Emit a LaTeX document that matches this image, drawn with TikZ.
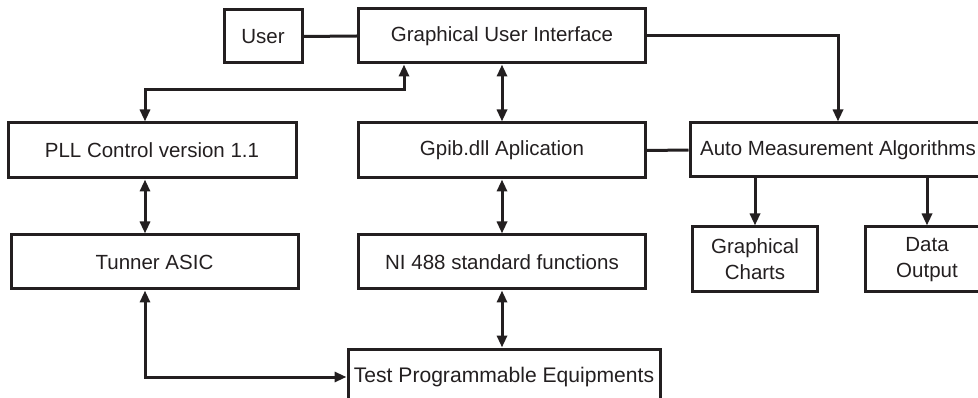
\documentclass[tikz,border=0pt]{standalone}
\usepackage{fontspec}
\setmainfont{Liberation Sans}
\usetikzlibrary{arrows.meta}
\definecolor{ink}{RGB}{35,31,32}
\begin{document}
\begin{tikzpicture}[x=1pt,y=1pt,
  blk/.style={draw=ink,line width=3pt,rectangle,inner sep=0pt,
    text=ink,font=\fontsize{20.5}{26}\selectfont,align=center},
  link/.style={draw=ink,line width=3pt},
  tip/.style={link,-{Triangle[length=12pt,width=10pt]}},
  twotip/.style={link,{Triangle[length=12pt,width=10pt]}-{Triangle[length=12pt,width=10pt]}}]
\useasboundingbox (0,0) rectangle (978,-398);

% blocks
\node[blk,minimum width=78,minimum height=53] (user) at (263,-36.5) {User};
\node[blk,minimum width=287,minimum height=54] (gui) at (502,-36) {Graphical User Interface};
\node[blk,minimum width=288,minimum height=55] (pll) at (152,-150.5) {PLL Control version 1.1};
\node[blk,minimum width=287,minimum height=55] (gpib) at (502,-150.5) {Gpib.dll Aplication};
\node[blk,minimum width=296,minimum height=54] (ama) at (838,-150) {Auto Measurement Algorithms};
\node[blk,minimum width=287,minimum height=54] (tun) at (154.5,-262) {Tunner ASIC};
\node[blk,minimum width=287,minimum height=54] (ni) at (502,-262) {NI 488 standard functions};
\node[blk,minimum width=125,minimum height=65] (gc) at (755,-259.5) {Graphical\\Charts};
\node[blk,minimum width=124,minimum height=65] (dout) at (927,-259.5) {Data\\Output};
\node[blk,minimum width=312,minimum height=56,font=\fontsize{21.1}{26}\selectfont] (test) at (504,-377) {Test Programmable Equipments};

% vertical guide for the left column of connectors
\coordinate (lx) at (145,0);
\coordinate (bend) at (404,-90);

% connectors
\draw[link] (user.east) -- (gui.west);
\draw[twotip] (gui.south -| bend) -- (bend) -| (pll.north -| lx);
\draw[twotip] (gui.south) -- (gpib.north);
\draw[tip] (gui.east) -| (ama.north);
\draw[link] (gpib.east) -- (ama.west);
\draw[tip] (ama.south -| gc.north) -- (gc.north);
\draw[tip] (ama.south -| dout.north) -- (dout.north);
\draw[twotip] (pll.south -| lx) -- (tun.north -| lx);
\draw[twotip] (gpib.south) -- (ni.north);
\draw[twotip] (ni.south) -- (ni.south |- test.north);
\draw[twotip] (tun.south -| lx) |- (test.west);
\end{tikzpicture}
\end{document}
